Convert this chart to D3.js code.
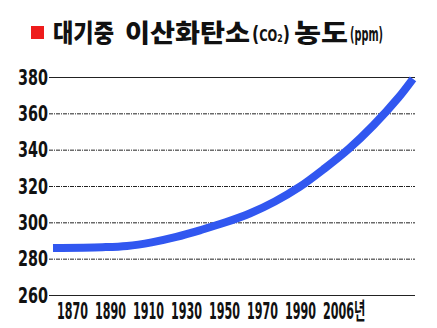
<!DOCTYPE html>
<html>
<head>
<meta charset="utf-8">
<script src="https://cdn.jsdelivr.net/npm/d3@7"></script>
<style>
  body { margin: 0; background: #fff; }
  svg { display: block; }
</style>
</head>
<body>
<svg width="437" height="328"></svg>
<script>
// chart values
const yTicks = [260, 280, 300, 320, 340, 360, 380]
const xLabels = ['1870', '1890', '1910', '1930', '1950', '1970', '1990', '2006년']
const years = [1860, 1880, 1890, 1900, 1910, 1920, 1930, 1940, 1950, 1960, 1970, 1980, 1990, 2000, 2006]
const co2 = [285.9, 286.3, 287, 289, 292, 295.8, 300, 305, 311.5, 319.5, 329.5, 340.5, 353.5, 368.5, 379]

const narrow = "'Liberation Sans Narrow', 'DejaVu Sans Condensed', 'Noto Sans CJK KR', sans-serif"
const korean = "'Noto Sans CJK KR', sans-serif"

const margin = {top: 77, right: 22, bottom: 33, left: 49}

const svg = d3.select('svg')

// squeeze a text horizontally so it is w pixels wide
function squeeze(text, w, dx) {
    const bw = text.node().getBBox().width
    const k = w / bw
    text.attr('x', 0).attr('transform', `translate(${dx || 0},0) scale(${k},1)`)
    return k
}

// title
svg.append('rect')
    .attr('x', 31).attr('y', 26)
    .attr('width', 13).attr('height', 13)
    .attr('fill', '#ee1c1c')

const titleParts = [
    {t: '대기중', x: 53, w: 61, size: 25, font: korean, y: 42},
    {t: '이산화탄소', x: 125, w: 125, size: 25, font: korean, y: 42},
    {t: '농도', x: 294, w: 54, size: 25, font: korean, y: 42},
    {t: '(ppm)', x: 350, w: 33, size: 19, font: narrow, y: 41}
]
titleParts.forEach(p => {
    const g = svg.append('g').attr('transform', `translate(${p.x},${p.y})`)
    const t = g.append('text')
        .attr('font-family', p.font)
        .attr('font-weight', 900)
        .attr('font-size', p.size)
        .attr('fill', '#111')
        .text(p.t)
    squeeze(t, p.w)
})

const co2G = svg.append('g').attr('transform', 'translate(252,41)')
const co2Label = co2G.append('text')
    .attr('font-family', narrow)
    .attr('font-weight', 'bold')
    .attr('fill', '#111')
co2Label.append('tspan').attr('font-size', 22).text('(')
co2Label.append('tspan').attr('font-size', 16).text('CO')
co2Label.append('tspan').attr('font-size', 11).attr('dy', 1).text('2')
co2Label.append('tspan').attr('font-size', 22).attr('dy', -1).text(')')
squeeze(co2Label, 38)

// scales
const y = d3.scaleLinear()
    .domain([260, 380])
    .range([295, 77])

const x = d3.scaleLinear()
    .domain([1860, 2006])
    .range([53, 413])

const xLab = d3.scalePoint()
    .domain(xLabels)
    .range([72, 338])

// y axis with gridlines
const yAxis = d3.axisLeft(y)
    .tickValues(yTicks)
    .tickSize(-(415 - margin.left))
    .tickPadding(1)

const gy = svg.append('g')
    .attr('transform', `translate(${margin.left}, 0)`)
    .call(yAxis)
gy.select('.domain').remove()
gy.selectAll('.tick line')
    .attr('stroke', '#222')
    .attr('stroke-width', 1)
    .attr('stroke-dasharray', d => (d === 260 || d === 380) ? null : '4,1,1,1')
gy.selectAll('.tick text')
    .attr('font-family', narrow)
    .attr('font-weight', 'bold')
    .attr('font-size', 22)
    .attr('fill', '#111')
    .each(function() { squeeze(d3.select(this), 30, -1) })

// x labels
const xAxis = d3.axisBottom(xLab)
    .tickSize(0)
    .tickPadding(0)
const gx = svg.append('g')
    .attr('transform', `translate(0, 302)`)
    .call(xAxis)
gx.select('.domain').remove()
const xTexts = gx.selectAll('.tick text')
    .attr('font-family', narrow)
    .attr('font-weight', 'bold')
    .attr('font-size', 23)
    .attr('fill', '#111')
    .attr('dy', 17)
    .attr('text-anchor', 'start')
const kx = 31 / xTexts.filter((d, i) => i === 0).node().getBBox().width
xTexts.attr('x', 0).attr('transform', `translate(-15.5,0) scale(${kx},1)`)

// co2 line
const line = d3.line()
    .x(d => x(d[0]))
    .y(d => y(d[1]))
    .curve(d3.curveCatmullRom)

svg.append('path')
    .datum(d3.zip(years, co2))
    .attr('d', line)
    .attr('fill', 'none')
    .attr('stroke', '#3157f0')
    .attr('stroke-width', 8)
    .attr('stroke-linecap', 'butt')
</script>
</body>
</html>
